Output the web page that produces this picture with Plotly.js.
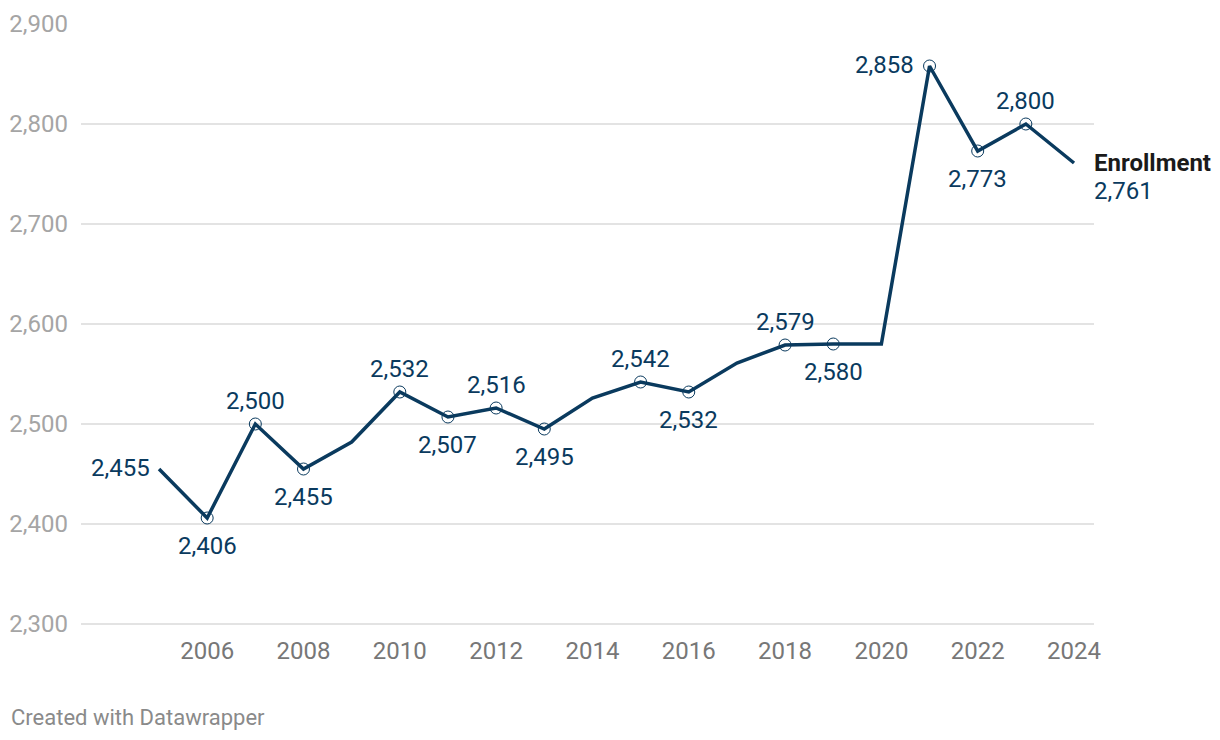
<!DOCTYPE html>
<html>
<head>
<meta charset="utf-8">
<script src="https://cdn.plot.ly/plotly-3.0.1.min.js"></script>
<style>
  html, body { margin: 0; padding: 0; background: #fff; }
  #chart { width: 1220px; height: 740px; }
</style>
</head>
<body>
<div id="chart"></div>
<script>
// Data
const years = [2005, 2006, 2007, 2008, 2009, 2010, 2011, 2012, 2013, 2014,
               2015, 2016, 2017, 2018, 2019, 2020, 2021, 2022, 2023, 2024];
const enrollment = [2455, 2406, 2500, 2455, 2482, 2532, 2507, 2516, 2495, 2526,
                    2542, 2532, 2561, 2579, 2580, 2580, 2858, 2773, 2800, 2761];
// label placement for each year ('' = no label)
const labelPos = ['left', 'below', 'above', 'below', '', 'above', 'below', 'above', 'below', '',
                  'above', 'below', '', 'above', 'below', '', 'left', 'below', 'above', 'end'];
// whether a circle marker is drawn
const hasMarker = [0, 1, 1, 1, 0, 1, 1, 1, 1, 0, 1, 1, 0, 1, 1, 0, 1, 1, 1, 0];
const seriesName = 'Enrollment';
const yTicks = [2300, 2400, 2500, 2600, 2700, 2800, 2900];
const xTicks = [2006, 2008, 2010, 2012, 2014, 2016, 2018, 2020, 2022, 2024];

const NAVY = '#0a3a5e';
const fmt = v => v.toLocaleString('en-US');

const mx = [], my = [];
years.forEach((y, i) => { if (hasMarker[i]) { mx.push(y); my.push(enrollment[i]); } });

const traces = [
  {
    x: years, y: enrollment, type: 'scatter', mode: 'lines',
    line: { color: NAVY, width: 3.5 }, hoverinfo: 'skip', showlegend: false
  },
  {
    x: mx, y: my, type: 'scatter', mode: 'markers',
    marker: { symbol: 'circle-open', size: 12, color: NAVY, line: { width: 1, color: NAVY } },
    hoverinfo: 'skip', showlegend: false
  }
];

const labelFont = { family: 'Roboto, sans-serif', size: 24, color: NAVY };
const annotations = [];
years.forEach((yr, i) => {
  const p = labelPos[i];
  if (!p) return;
  const base = { x: yr, y: enrollment[i], xref: 'x', yref: 'y', showarrow: false,
                 text: fmt(enrollment[i]), font: labelFont };
  if (p === 'above') annotations.push(Object.assign(base, { xanchor: 'center', yanchor: 'middle', yshift: 23 }));
  else if (p === 'below') annotations.push(Object.assign(base, { xanchor: 'center', yanchor: 'middle', yshift: -28 }));
  else if (p === 'left') annotations.push(Object.assign(base, { xanchor: 'right', yanchor: 'middle', xshift: hasMarker[i] ? -14 : -7, yshift: 1 }));
  else if (p === 'end') {
    annotations.push({ x: yr, y: enrollment[i], xref: 'x', yref: 'y', showarrow: false,
      text: '<b>' + seriesName + '</b>', xanchor: 'left', yanchor: 'middle', xshift: 18, yshift: 0,
      font: { family: 'Roboto, sans-serif', size: 24, color: '#1a1a1a' } });
    annotations.push(Object.assign(base, { xanchor: 'left', yanchor: 'middle', xshift: 18, yshift: -28 }));
  }
});
annotations.push({
  xref: 'paper', yref: 'paper', x: -72 / 1013, y: -88 / 606, xanchor: 'left', yanchor: 'middle',
  showarrow: false, text: 'Created with Datawrapper',
  font: { family: 'Roboto, sans-serif', size: 22, color: '#8a8a8a' }
});

const layout = {
  width: 1220, height: 740,
  margin: { l: 81, r: 126, t: 23, b: 111 },
  paper_bgcolor: '#ffffff', plot_bgcolor: '#ffffff',
  font: { family: 'Roboto, sans-serif' },
  xaxis: {
    range: [2003.38, 2024.415], tickvals: xTicks, ticktext: xTicks.map(String),
    showgrid: false, zeroline: false, showline: false, ticks: '',
    ticklabelstandoff: 5,
    tickfont: { family: 'Roboto, sans-serif', size: 24, color: '#777777' }
  },
  yaxis: {
    range: [2295, 2901], tickvals: yTicks, ticktext: yTicks.map(fmt),
    showgrid: true, gridcolor: '#e3e3e3', gridwidth: 1.2, zeroline: false, showline: false, ticks: '',
    ticklabelstandoff: 12,
    tickfont: { family: 'Roboto, sans-serif', size: 24, color: '#a5a5a5' }
  },
  annotations: annotations,
  showlegend: false
};

Plotly.newPlot('chart', traces, layout, { staticPlot: true, displayModeBar: false });
</script>
</body>
</html>
